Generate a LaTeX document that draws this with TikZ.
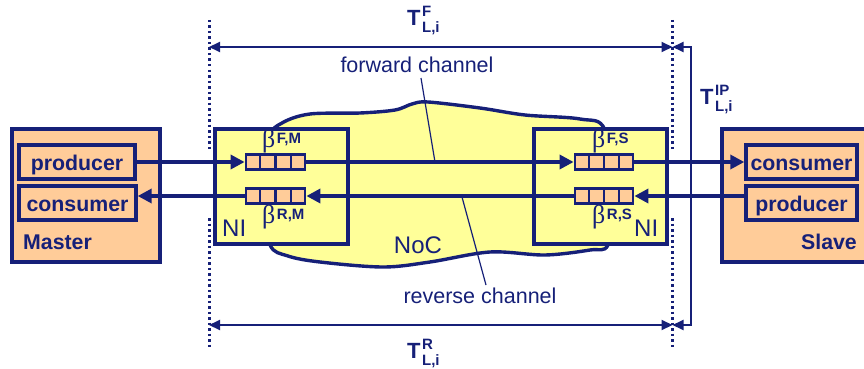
\documentclass[tikz,border=0pt]{standalone}
\usepackage{fontspec}
\setmainfont{Liberation Sans}
\newfontfamily\serifgr{Liberation Serif}
\usetikzlibrary{arrows.meta,calc}
\definecolor{navy}{RGB}{22,32,120}
\definecolor{peach}{RGB}{255,204,153}
\definecolor{lyellow}{RGB}{255,255,153}
\newcommand{\fsz}[1]{\fontsize{#1}{#1}\selectfont}
\newcommand{\Tlab}[1]{{\bfseries\fsz{22}T\kern1.5pt\rlap{\raisebox{9pt}{\fsz{15}#1}}\raisebox{-7pt}{\fsz{15}L,i}}}
\newcommand{\betalab}[1]{{\serifgr\fsz{26}β}\kern1.5pt\raisebox{4pt}{\bfseries\fsz{15}#1}}
\begin{document}
\begin{tikzpicture}[x=1pt,y=-1pt,
  every node/.style={text=navy, inner sep=0pt},
  peachbox/.style={draw=navy, line width=3.4pt, fill=peach, rectangle},
  inbox/.style={peachbox, text height=16pt, text depth=0pt, font=\bfseries\fsz{21.3}},
  nibox/.style={draw=navy, line width=3.4pt, fill=lyellow, rectangle, minimum width=133pt, minimum height=115pt},
  bufbox/.style={draw=navy, line width=2.8pt, fill=peach, rectangle, minimum height=15pt},
  mainarrow/.style={draw=navy, line width=3.4pt, -{Triangle[length=14pt,width=14pt]}},
  dimline/.style={draw=navy, line width=2pt, >={Triangle[length=11pt,width=10pt]}},
  dotline/.style={draw=navy, line width=3pt, dash pattern=on 2.5pt off 3pt},
  leader/.style={draw=navy, line width=1.2pt}]
\useasboundingbox (0,0) rectangle (864,369);
\clip (0,0) rectangle (864,369);

% NoC cloud
\draw[draw=navy, line width=3.4pt, fill=lyellow] plot[smooth cycle, tension=0.55] coordinates {
 (262,200) (270,138) (282,123) (310,114) (360,113) (395,110) (412,104) (428,102)
 (480,108) (525,115) (580,119) (605,130) (615,200) (608,245) (590,250) (545,255)
 (490,252) (430,262) (383,267) (320,262) (288,256) (270,245)};

% Master and Slave
\node[peachbox, minimum width=148pt, minimum height=133pt] (master) at (86,195.5) {};
\node[inbox, minimum width=116pt, minimum height=34pt] (mprod) at (77,162) {producer};
\node[inbox, minimum width=117pt, minimum height=34pt] (mcons) at (77.5,203) {consumer};
\node[anchor=base west, font=\bfseries\fsz{21.3}] (mlab) at (23,249) {Master};

\node[peachbox, minimum width=158pt, minimum height=133pt] (slave) at (801,195.5) {};
\node[inbox, minimum width=111pt, minimum height=34pt] (scons) at (801.5,162) {consumer};
\node[inbox, minimum width=111pt, minimum height=34pt] (sprod) at (801.5,203) {producer};
\node[anchor=base east, font=\bfseries\fsz{21.3}] (slab) at (857,249) {Slave};

% NIs
\node[nibox] (niL) at (281.5,186.5) {};
\node[nibox] (niR) at (600.5,186.5) {};
\node[anchor=base west, font=\fsz{24}] (niLlab) at (222,236) {NI};
\node[anchor=base west, font=\fsz{24}] (niRlab) at (634,236) {NI};
\node[anchor=base, font=\fsz{24}] (noc) at (418,253) {NoC};

% buffers
\node[bufbox, minimum width=59pt] (bFM) at (275.5,162) {};
\node[bufbox, minimum width=59pt] (bRM) at (275.5,196) {};
\node[bufbox, minimum width=58pt] (bFS) at (604,162) {};
\node[bufbox, minimum width=58pt] (bRS) at (604,196) {};
\foreach \b in {bFM,bRM,bFS,bRS}{
  \foreach \i in {1,2,3}{
    \draw[draw=navy, line width=2.2pt] ($(\b.south west)!\i/4!(\b.south east)$) -- ($(\b.north west)!\i/4!(\b.north east)$);
  }
}
\node[anchor=base west] (betaFM) at (262,147) {\betalab{F,M}};
\node[anchor=base west] (betaRM) at (262,223) {\betalab{R,M}};
\node[anchor=base west] (betaFS) at (592,147) {\betalab{F,S}};
\node[anchor=base west] (betaRS) at (592,223) {\betalab{R,S}};

% channels
\draw[mainarrow] (mprod.east) -- (bFM.west);
\draw[mainarrow] (bFM.east) -- (bFS.west);
\draw[mainarrow] (bFS.east) -- (scons.west);
\draw[mainarrow] ([yshift=7pt]sprod.west) -- (bRS.east);
\draw[mainarrow] (bRS.west) -- (bRM.east);
\draw[mainarrow] (bRM.west) -- ([yshift=7pt]mcons.east);

% dotted boundaries
\coordinate (dL1) at (209,20);  \coordinate (dL2) at (209,150);
\coordinate (dL3) at (209,218); \coordinate (dL4) at (209,347);
\coordinate (dR1) at (672.5,20);  \coordinate (dR2) at (672.5,150);
\coordinate (dR3) at (672.5,218); \coordinate (dR4) at (672.5,347);
\draw[dotline] (dL1) -- (dL2);
\draw[dotline] (dL3) -- (dL4);
\draw[dotline] (dR1) -- (dR2);
\draw[dotline] (dR3) -- (dR4);

% dimension lines
\coordinate (fL) at (209,47);  \coordinate (fR) at (672.5,47);
\coordinate (rL) at (209,325); \coordinate (rR) at (672.5,325);
\coordinate (ipc1) at (691,47); \coordinate (ipc2) at (691,325);
\draw[dimline, <->] (fL) -- (fR);
\draw[dimline, <->] (rL) -- (rR);
\draw[dimline, <->] (fR) -- (ipc1) -- (ipc2) -- (rR);
\node[anchor=base west] (tF) at (407,26) {\Tlab{F}};
\node[anchor=base west] (tR) at (407,358) {\Tlab{R}};
\node[anchor=base west] (tIP) at (700,104) {\Tlab{IP}};

% channel labels
\node[anchor=base, font=\fsz{21.5}] (fwd) at (417,73) {forward channel};
\node[anchor=base, font=\fsz{21.5}] (rev) at (480,303) {reverse channel};
\coordinate (fw1) at (421,78); \coordinate (fw2) at (435,162);
\coordinate (rv1) at (462,197); \coordinate (rv2) at (486,285);
\draw[leader] (fw1) -- (fw2);
\draw[leader] (rv1) -- (rv2);
\end{tikzpicture}
\end{document}
